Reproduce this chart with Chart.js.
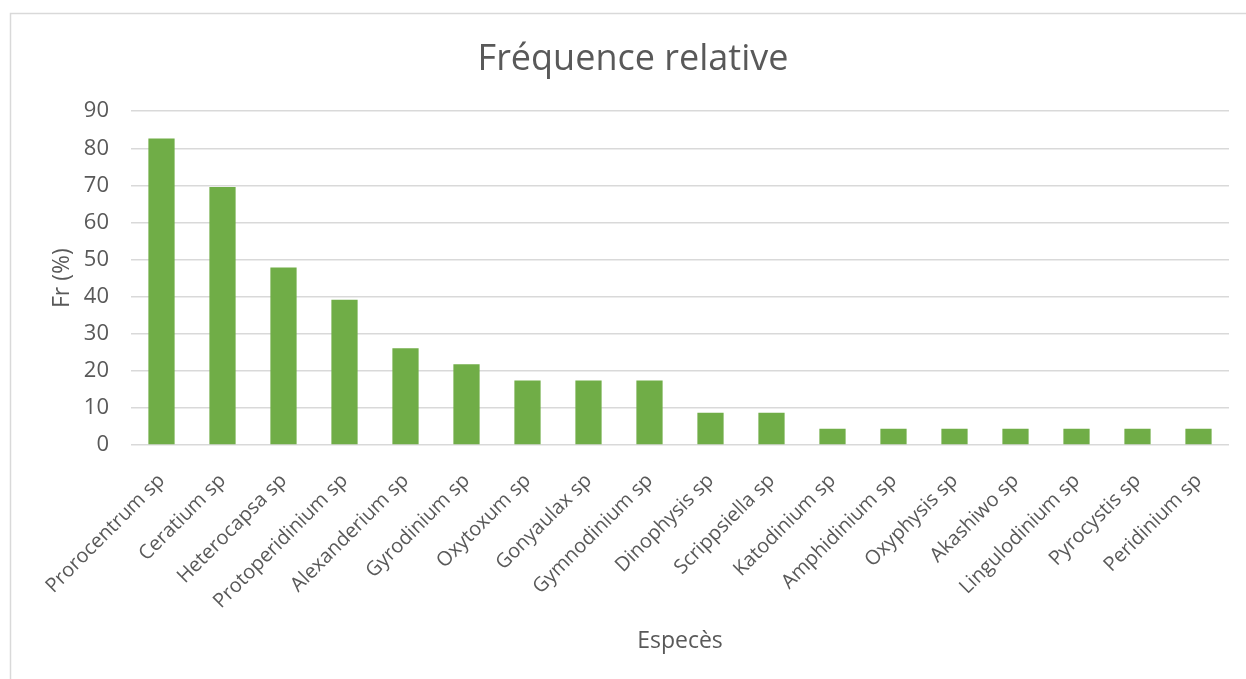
<!DOCTYPE html>
<html lang="fr">
<head>
<meta charset="utf-8">
<title>Fréquence relative</title>
<script src="https://cdn.jsdelivr.net/npm/chart.js@4/dist/chart.umd.min.js"></script>
<style>
  html, body { margin: 0; padding: 0; background: #ffffff; }
  #wrap { position: relative; width: 1246px; height: 679px; }
</style>
</head>
<body>
<div id="wrap"><canvas id="chart" width="1246" height="679"></canvas></div>
<script>
// Species (x categories)
const especes = [
  "Prorocentrum sp", "Ceratium sp", "Heterocapsa sp", "Protoperidinium sp",
  "Alexanderium sp", "Gyrodinium sp", "Oxytoxum sp", "Gonyaulax sp",
  "Gymnodinium sp", "Dinophysis sp", "Scrippsiella sp", "Katodinium sp",
  "Amphidinium sp", "Oxyphysis sp", "Akashiwo sp", "Lingulodinium sp",
  "Pyrocystis sp", "Peridinium sp"
];

// Relative frequency, Fr (%)
const frequences = [
  82.61, 69.57, 47.83, 39.13,
  26.09, 21.74, 17.39, 17.39,
  17.39, 8.70, 8.70, 4.35,
  4.35, 4.35, 4.35, 4.35,
  4.35, 4.35
];

// Value axis range
const yMin = 0;
const yMax = 90;
const yStep = 10;

const textColor = "#595959";
const gridColor = "#d9d9d9";
const barColor = "#70ad47";
const fontFamily = "'Open Sans', 'Noto Sans', sans-serif";

// Light frame around the chart
const framePlugin = {
  id: "frame",
  beforeDraw(chart) {
    const ctx = chart.ctx;
    ctx.save();
    ctx.strokeStyle = gridColor;
    ctx.lineWidth = 1.5;
    ctx.beginPath();
    ctx.moveTo(10.5, chart.height);
    ctx.lineTo(10.5, 13.5);
    ctx.lineTo(chart.width, 13.5);
    ctx.stroke();
    ctx.restore();
  }
};

new Chart(document.getElementById("chart"), {
  type: "bar",
  data: {
    labels: especes,
    datasets: [{
      label: "Fr (%)",
      data: frequences,
      backgroundColor: barColor,
      borderWidth: 0,
      categoryPercentage: 1.0,
      barPercentage: 0.43
    }]
  },
  options: {
    responsive: false,
    animation: false,
    layout: { padding: { left: 37, right: 17, top: 0, bottom: 0 } },
    plugins: {
      legend: { display: false },
      tooltip: { enabled: false },
      title: {
        display: true,
        text: "Fréquence relative",
        color: textColor,
        font: { family: fontFamily, size: 36, weight: "normal", lineHeight: 1.2 },
        padding: { top: 38, bottom: 30 }
      }
    },
    scales: {
      x: {
        grid: { display: false },
        border: { display: false },
        ticks: {
          color: textColor,
          font: { family: fontFamily, size: 20 },
          minRotation: 45,
          maxRotation: 45,
          autoSkip: false,
          padding: 16
        },
        title: {
          display: true,
          text: "Especès",
          color: textColor,
          font: { family: fontFamily, size: 23, lineHeight: 1.2 },
          padding: { top: 0, bottom: 24 }
        },
        afterFit(scale) { scale.height = 234; }
      },
      y: {
        min: yMin,
        max: yMax,
        grid: { color: gridColor, lineWidth: 1.5, drawTicks: false },
        border: { display: false },
        ticks: {
          stepSize: yStep,
          color: textColor,
          font: { family: fontFamily, size: 22 },
          padding: 22
        },
        title: {
          display: true,
          text: "Fr (%)",
          color: textColor,
          font: { family: fontFamily, size: 23, lineHeight: 1.2 },
          padding: { top: 12, bottom: 0 }
        },
        afterFit(scale) { scale.width = 94; }
      }
    }
  },
  plugins: [framePlugin]
});
</script>
</body>
</html>
